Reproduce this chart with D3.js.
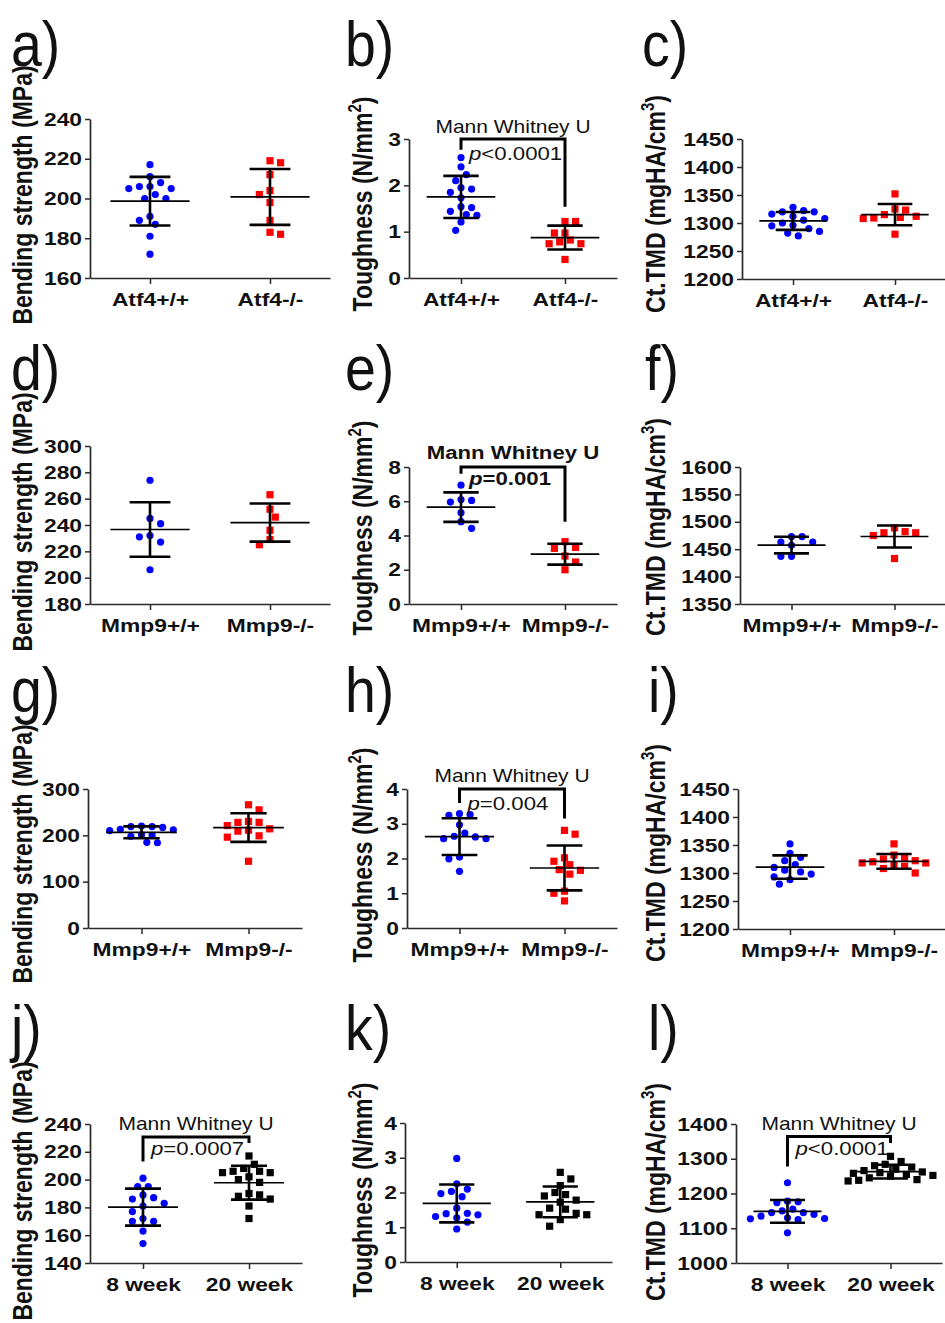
<!DOCTYPE html>
<html>
<head>
<meta charset="utf-8">
<script src="https://cdn.jsdelivr.net/npm/d3@7/dist/d3.min.js"></script>
<style>
  body { margin: 0; background: #fff; }
  svg text { font-family: "Liberation Sans", Arial, sans-serif; fill: #111; }
</style>
</head>
<body>
<svg id="fig" width="945" height="1323"></svg>
<script>
// ---- group labels ----
const atf4Groups = ["Atf4+/+", "Atf4-/-"];
const mmp9Groups = ["Mmp9+/+", "Mmp9-/-"];
const ageGroups = ["8 week", "20 week"];

// ---- y-axis tick values ----
const ticksBendA = [160, 180, 200, 220, 240];
const ticksToughA = [0, 1, 2, 3];
const ticksTmdA = [1200, 1250, 1300, 1350, 1400, 1450];
const ticksBendD = [180, 200, 220, 240, 260, 280, 300];
const ticksToughE = [0, 2, 4, 6, 8];
const ticksTmdF = [1350, 1400, 1450, 1500, 1550, 1600];
const ticksBendG = [0, 100, 200, 300];
const ticksToughH = [0, 1, 2, 3, 4];
const ticksTmdI = [1200, 1250, 1300, 1350, 1400, 1450];
const ticksBendJ = [140, 160, 180, 200, 220, 240];
const ticksToughK = [0, 1, 2, 3, 4];
const ticksTmdL = [1000, 1100, 1200, 1300, 1400];

// ---- individual measurements ----
// Atf4 cohort
const atf4BendingWT = [217, 211, 208, 206, 206, 205, 205, 202, 200, 200, 191, 189, 187, 181, 172];
const atf4BendingKO = [219, 218, 212, 204, 202, 198, 189, 182, 183];
const atf4ToughWT = [2.60, 2.40, 2.23, 2.10, 1.95, 1.92, 1.85, 1.73, 1.54, 1.52, 1.44, 1.37, 1.35, 1.21, 1.03];
const atf4ToughKO = [1.22, 1.22, 0.82, 0.97, 0.97, 0.78, 0.74, 0.74, 0.40];
const atf4TmdWT = [1328, 1322, 1320, 1320, 1316, 1312, 1308, 1305, 1300, 1296, 1295, 1290, 1285, 1282, 1277];
const atf4TmdKO = [1352, 1325, 1323, 1315, 1312, 1310, 1309, 1308, 1280];
// Mmp9 cohort 1
const mmp9aBendingWT = [274, 245, 241, 232, 231, 227, 206];
const mmp9aBendingKO = [263, 252, 246, 236, 229, 225];
const mmp9aToughWT = [6.94, 6.10, 6.05, 5.95, 5.33, 4.81, 4.42];
const mmp9aToughKO = [3.64, 3.30, 3.25, 2.80, 2.45, 2.00];
const mmp9aTmdWT = [1473, 1473, 1463, 1463, 1457, 1437, 1437];
const mmp9aTmdKO = [1489, 1482, 1480, 1480, 1475, 1433];
// Mmp9 cohort 2
const mmp9bBendingWT = [220, 219, 219, 217, 213, 212, 210, 201, 200, 198, 185, 184];
const mmp9bBendingKO = [266, 255, 230, 228, 228, 221, 214, 211, 209, 199, 196, 144];
const mmp9bToughWT = [3.29, 3.26, 3.24, 2.97, 2.73, 2.64, 2.62, 2.57, 2.57, 2.04, 1.99, 1.63];
const mmp9bToughKO = [2.81, 2.70, 2.02, 1.92, 1.82, 1.68, 1.66, 1.55, 1.06, 1.00, 0.78];
const mmp9bTmdWT = [1352, 1335, 1328, 1322, 1315, 1310, 1305, 1302, 1298, 1293, 1288, 1280];
const mmp9bTmdKO = [1352, 1332, 1328, 1325, 1322, 1320, 1318, 1318, 1315, 1312, 1308, 1300];
// age comparison
const ageBending8 = [201, 195, 195, 189, 187, 186, 183, 181, 177, 172, 170, 170, 163, 154];
const ageBending20 = [217, 211, 208, 206, 206, 205, 205, 202, 200, 198, 190, 189, 188, 186, 181, 172];
const ageTough8 = [2.98, 2.25, 2.10, 2.03, 1.97, 1.88, 1.55, 1.40, 1.39, 1.36, 1.31, 1.27, 1.15, 0.95];
const ageTough20 = [2.58, 2.39, 2.20, 2.00, 1.94, 1.90, 1.78, 1.72, 1.55, 1.52, 1.40, 1.36, 1.36, 1.22, 1.03];
const ageTmd8 = [1231, 1178, 1176, 1174, 1155, 1150, 1145, 1140, 1145, 1135, 1130, 1128, 1127, 1125, 1087];
const ageTmd20 = [1307, 1292, 1284, 1280, 1276, 1270, 1266, 1262, 1260, 1258, 1255, 1252, 1250, 1245, 1240, 1238, 1236];

// ---- statistical annotations ----
const pTough = "<0.0001";
const pToughMmp9a = "=0.001";
const pToughMmp9b = "=0.004";
const pBendAge = "=0.0007";
const pTmdAge = "<0.0001";

// ---- drawing settings ----
const SX = 1.2;              // horizontal glyph stretch
const TICK_FONT = 19;
const TITLE_FONT = 23;
const LETTER_FONT = 63;
const R = 3.6;               // circle radius
const SQ = 7.2;              // square side
const BLUE = "#0000ff", RED = "#ff0000", BLACK = "#000000";

const titles = {
  bend: [["Bending strength (MPa)"]],
  tough: [["Toughness (N/mm"], ["2", "sup"], [")"]],
  tmd: [["Ct.TMD (mgHA/cm"], ["3", "sup"], [")"]]
};

const panels = [
  { letter: "a)", lp: [11, 66], x: [90, 330], y: [278, 119], domain: [160, 240], ticks: ticksBendA, groups: atf4Groups, data: [atf4BendingWT, atf4BendingKO], marks: ["circle", "square"], colors: [BLUE, RED], title: "bend", tp: [32, 195] },
  { letter: "b)", lp: [345, 66], x: [409, 617], y: [278, 139], domain: [0, 3], ticks: ticksToughA, groups: atf4Groups, data: [atf4ToughWT, atf4ToughKO], marks: ["circle", "square"], colors: [BLUE, RED], title: "tough", tp: [372, 204],
    ann: { top: 3, lb: 2.77, rb: 1.54, ty: 3.14, p: pTough, py: 2.55, bold: false } },
  { letter: "c)", lp: [642, 66], x: [742, 946], y: [279, 139], domain: [1200, 1450], ticks: ticksTmdA, groups: atf4Groups, data: [atf4TmdWT, atf4TmdKO], marks: ["circle", "square"], colors: [BLUE, RED], title: "tmd", tp: [665, 204] },

  { letter: "d)", lp: [11, 390], x: [90, 330], y: [604, 446], domain: [180, 300], ticks: ticksBendD, groups: mmp9Groups, data: [mmp9aBendingWT, mmp9aBendingKO], marks: ["circle", "square"], colors: [BLUE, RED], title: "bend", tp: [32, 522] },
  { letter: "e)", lp: [345, 390], x: [409, 617], y: [604, 467], domain: [0, 8], ticks: ticksToughE, groups: mmp9Groups, data: [mmp9aToughWT, mmp9aToughKO], marks: ["circle", "square"], colors: [BLUE, RED], title: "tough", tp: [372, 528],
    ann: { top: 8, lb: 7.6, rb: 4.8, ty: 8.49, p: pToughMmp9a, py: 6.94, bold: true } },
  { letter: "f)", lp: [645, 390], x: [740, 946], y: [604, 467], domain: [1350, 1600], ticks: ticksTmdF, groups: mmp9Groups, data: [mmp9aTmdWT, mmp9aTmdKO], marks: ["circle", "square"], colors: [BLUE, RED], title: "tmd", tp: [665, 527] },

  { letter: "g)", lp: [11, 712], x: [88, 302], y: [928, 789], domain: [0, 300], ticks: ticksBendG, groups: mmp9Groups, data: [mmp9bBendingWT, mmp9bBendingKO], marks: ["circle", "square"], colors: [BLUE, RED], title: "bend", tp: [32, 854] },
  { letter: "h)", lp: [345, 712], x: [407, 617], y: [928, 789], domain: [0, 4], ticks: ticksToughH, groups: mmp9Groups, data: [mmp9bToughWT, mmp9bToughKO], marks: ["circle", "square"], colors: [BLUE, RED], title: "tough", tp: [372, 855],
    ann: { top: 4, lb: 3.6, rb: 3.15, ty: 4.19, p: pToughMmp9b, py: 3.4, bold: false } },
  { letter: "i)", lp: [648, 712], x: [738, 946], y: [929, 789], domain: [1200, 1450], ticks: ticksTmdI, groups: mmp9Groups, data: [mmp9bTmdWT, mmp9bTmdKO], marks: ["circle", "square"], colors: [BLUE, RED], title: "tmd", tp: [665, 853] },

  { letter: "j)", lp: [11, 1050], x: [90, 302], y: [1263, 1124], domain: [140, 240], ticks: ticksBendJ, groups: ageGroups, data: [ageBending8, ageBending20], marks: ["circle", "square"], colors: [BLUE, BLACK], title: "bend", tp: [32, 1191],
    ann: { top: 230.6, lb: 213, rb: 226.3, ty: 235.4, p: pBendAge, py: 217.8, bold: false } },
  { letter: "k)", lp: [345, 1050], x: [405, 612], y: [1262, 1123], domain: [0, 4], ticks: ticksToughK, groups: ageGroups, data: [ageTough8, ageTough20], marks: ["circle", "square"], colors: [BLUE, BLACK], title: "tough", tp: [372, 1190] },
  { letter: "l)", lp: [648, 1050], x: [736, 942], y: [1263, 1124], domain: [1000, 1400], ticks: ticksTmdL, groups: ageGroups, data: [ageTmd8, ageTmd20], marks: ["circle", "square"], colors: [BLUE, BLACK], title: "tmd", tp: [665, 1192],
    ann: { top: 1364, lb: 1277.6, rb: 1345, ty: 1383.6, p: pTmdAge, py: 1311, bold: false } }
];

const svg = d3.select("#fig");

// Spread points sideways so that no two overlap, keeping the cloud balanced
function swarm(values, y, unit, minDist) {
  const pts = values.map(v => ({ v, y: y(v) })).sort((a, b) => b.v - a.v);
  const placed = [];
  for (const p of pts) {
    let dx = 0;
    const bias = d3.sum(placed, q => q.dx);
    for (let k = 0; k < 50; k++) {
      const cands = k === 0 ? [0] : (bias > 0 ? [-k * unit, k * unit] : [k * unit, -k * unit]);
      const ok = cands.find(c => placed.every(q => Math.hypot(q.dx - c, q.y - p.y) >= minDist));
      if (ok !== undefined) { dx = ok; break; }
    }
    p.dx = dx;
    placed.push(p);
  }
  return placed;
}

function drawPanel(p) {
  const g = svg.append("g");
  const x = d3.scalePoint().domain(p.groups).range(p.x).padding(0.5);
  const y = d3.scaleLinear().domain(p.domain).range(p.y);
  const step = x.step();

  // panel letter
  g.append("text")
    .attr("transform", `translate(${p.lp[0]},${p.lp[1]}) scale(0.88,1)`)
    .attr("font-size", LETTER_FONT)
    .text(p.letter);

  // y axis title
  const t = g.append("text")
    .attr("transform", `translate(${p.tp[0]},${p.tp[1]}) scale(${SX},1) rotate(-90)`)
    .attr("text-anchor", "middle")
    .attr("font-size", TITLE_FONT)
    .attr("font-weight", "bold");
  titles[p.title].forEach(([s, kind], i, arr) => {
    const ts = t.append("tspan").text(s);
    if (kind === "sup") ts.attr("font-size", 15).attr("dy", -9);
    else if (i > 0 && arr[i - 1][1] === "sup") ts.attr("dy", 9);
  });

  // y axis
  const ya = g.append("g")
    .attr("transform", `translate(${p.x[0]},0)`)
    .call(d3.axisLeft(y).tickValues(p.ticks).tickSize(5).tickSizeOuter(0).tickFormat(d3.format("d")));
  ya.selectAll("text")
    .attr("x", null)
    .attr("transform", `translate(-8,0) scale(${SX},1)`)
    .attr("font-size", TICK_FONT)
    .attr("font-weight", "bold")
    .attr("font-family", null);

  // x axis
  const xa = g.append("g")
    .attr("transform", `translate(0,${p.y[0]})`)
    .call(d3.axisBottom(x).tickSize(6).tickSizeOuter(0));
  xa.selectAll("text")
    .attr("y", 15)
    .attr("transform", `scale(${SX},1)`)
    .attr("font-size", TICK_FONT)
    .attr("font-weight", "bold")
    .attr("font-family", null);

  [ya, xa].forEach(a => {
    a.select(".domain").attr("stroke", "#2a2a2a").attr("stroke-width", 1.7);
    a.selectAll(".tick line").attr("stroke", "#2a2a2a").attr("stroke-width", 1.5);
  });

  // individual points
  p.groups.forEach((grp, gi) => {
    const cx = x(grp);
    const pts = swarm(p.data[gi], y, 5.3, 8.6);
    const layer = g.append("g").attr("fill", p.colors[gi]);
    if (p.marks[gi] === "circle") {
      layer.selectAll("circle").data(pts).join("circle")
        .attr("cx", d => cx + d.dx).attr("cy", d => d.y).attr("r", R);
    } else {
      layer.selectAll("rect").data(pts).join("rect")
        .attr("x", d => cx + d.dx - SQ / 2).attr("y", d => d.y - SQ / 2)
        .attr("width", SQ).attr("height", SQ);
    }
  });

  // mean and SD whiskers
  p.groups.forEach((grp, gi) => {
    const cx = x(grp);
    const m = d3.mean(p.data[gi]);
    const sd = d3.deviation(p.data[gi]);
    const w = g.append("g").attr("stroke", "#000").attr("fill", "none");
    w.append("line").attr("x1", cx - 0.33 * step).attr("x2", cx + 0.33 * step)
      .attr("y1", y(m)).attr("y2", y(m)).attr("stroke-width", 1.7);
    w.append("line").attr("x1", cx).attr("x2", cx)
      .attr("y1", y(m + sd)).attr("y2", y(m - sd)).attr("stroke-width", 2.6);
    [m + sd, m - sd].forEach(v => {
      w.append("line").attr("x1", cx - 0.17 * step).attr("x2", cx + 0.17 * step)
        .attr("y1", y(v)).attr("y2", y(v)).attr("stroke-width", 2.6);
    });
  });

  // significance bracket
  if (p.ann) {
    const a = p.ann;
    const xl = x(p.groups[0]), xr = x(p.groups[1]);
    g.append("path")
      .attr("d", `M${xl},${y(a.lb)}V${y(a.top)}H${xr}V${y(a.rb)}`)
      .attr("fill", "none").attr("stroke", "#000").attr("stroke-width", 3);
    g.append("text")
      .attr("transform", `translate(${(xl + xr) / 2},${y(a.ty)}) scale(${SX},1)`)
      .attr("text-anchor", "middle")
      .attr("font-size", a.bold ? 18.5 : 17.5)
      .attr("font-weight", a.bold ? "bold" : "normal")
      .text("Mann Whitney U");
    const pt = g.append("text")
      .attr("transform", `translate(${xl + 8},${y(a.py)}) scale(${SX},1)`)
      .attr("font-size", 18.5)
      .attr("font-weight", a.bold ? "bold" : "normal");
    pt.append("tspan").attr("font-style", "italic").text("p");
    pt.append("tspan").text(a.p);
  }
}

panels.forEach(drawPanel);
</script>
</body>
</html>
